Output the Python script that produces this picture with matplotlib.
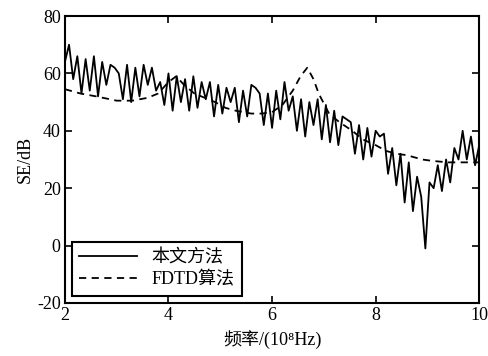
import numpy as np
import matplotlib
matplotlib.use("Agg")
import matplotlib.pyplot as plt

plt.rcParams['font.family'] = ['Liberation Serif', 'Noto Sans CJK SC']
plt.rcParams['axes.unicode_minus'] = False

# frequency grid (10^8 Hz) for the proposed method
freq = np.linspace(2, 10, 101)
se_method = [64, 70, 58, 66, 53, 65, 54, 66, 52, 64,
             56, 63, 62, 60, 51, 63, 50, 62, 52, 63,
             56, 62, 54, 57, 49, 60, 47, 59, 50, 58,
             47, 59, 48, 57, 51, 57, 45, 56, 46, 55,
             50, 55, 43, 54, 45, 56, 55, 53, 42, 53,
             41, 54, 44, 57, 47, 52, 40, 51, 38, 50,
             42, 51, 37, 49, 36, 47, 35, 45, 44, 43,
             32, 42, 30, 41, 31, 40, 38, 39, 25, 34,
             21, 32, 15, 29, 12, 24, 17, -1, 22, 20,
             28, 19, 30, 22, 34, 30, 40, 30, 38, 28,
             35]

# FDTD result
freq_fdtd = [2.0, 2.3, 2.6, 3.0, 3.3, 3.6, 3.8, 4.0, 4.15, 4.3, 4.5, 4.7, 4.9,
             5.1, 5.3, 5.6, 5.8, 6.0, 6.2, 6.4, 6.55, 6.68, 6.8, 6.9, 7.1,
             7.3, 7.55, 7.75, 8.0, 8.2, 8.4, 8.6, 8.9, 9.1, 9.4, 10.0]
se_fdtd = [54.5, 53, 52, 50.5, 50.5, 51.5, 53, 57, 59, 56, 53, 51.5, 50,
           48, 47, 46, 46, 46.5, 49, 54, 59, 62, 58, 53, 46,
           43, 40, 37, 35, 33, 32, 31.5, 30, 29.5, 29, 29]

fig = plt.figure(figsize=(4.88, 3.56), dpi=100)
ax = fig.add_axes([0.133, 0.149, 0.849, 0.806])

ax.plot(freq, se_method, color='black', linewidth=1.3, label='本文方法')
ax.plot(freq_fdtd, se_fdtd, color='black', linewidth=1.3, linestyle='--',
        dashes=(4, 3), label='FDTD算法')

ax.set_xlim(2, 10)
ax.set_ylim(-20, 80)
ax.set_xticks([2, 4, 6, 8, 10])
ax.set_yticks([-20, 0, 20, 40, 60, 80])
ax.tick_params(direction='in', top=True, right=True, length=5, width=1.2,
               labelsize=13, pad=3)
for s in ax.spines.values():
    s.set_linewidth(1.5)

ax.set_xlabel('频率/(10⁸Hz)', fontsize=13, labelpad=4)
ax.set_ylabel('SE/dB', fontsize=13, labelpad=2)

leg = ax.legend(loc='lower left', fontsize=13, fancybox=False, framealpha=1,
                edgecolor='black', borderpad=0.4, handlelength=3.2,
                borderaxespad=0.4, labelspacing=0.3)
leg.get_frame().set_linewidth(1.5)

fig.savefig('out.png', dpi=100)
